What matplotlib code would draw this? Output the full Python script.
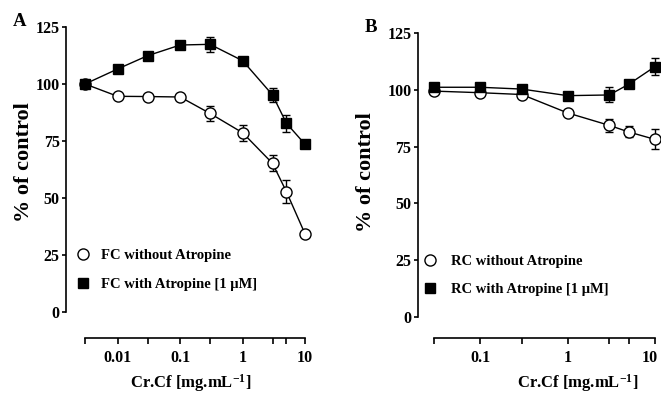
import matplotlib
matplotlib.use("Agg")
import matplotlib.pyplot as plt
from matplotlib.lines import Line2D
from matplotlib.transforms import ScaledTranslation

plt.rcParams['font.family'] = ['Liberation Serif', 'DejaVu Serif']
plt.rcParams['font.weight'] = 'bold'
plt.rcParams['mathtext.fontset'] = 'custom'
plt.rcParams['mathtext.rm'] = 'Liberation Serif:bold'
plt.rcParams['mathtext.it'] = 'Liberation Serif:bold'
plt.rcParams['mathtext.bf'] = 'Liberation Serif:bold'

# ---------------- data ----------------
conc_a = [0.003, 0.01, 0.03, 0.1, 0.3, 1, 3, 5, 10]
fc_without = [100, 94.6, 94.5, 94.3, 87.1, 78.6, 65.2, 52.8, 34.1]
fc_without_err = [0.8, 0.8, 0.8, 0.8, 3.4, 3.4, 3.5, 4.9, 1.0]
fc_with = [100, 106.6, 112.4, 117.1, 117.4, 110.2, 95.2, 82.8, 73.5]
fc_with_err = [0.8, 0.8, 0.8, 0.8, 3.2, 1.0, 3.1, 3.7, 1.0]

conc_b = [0.03, 0.1, 0.3, 1, 3, 5, 10]
rc_without = [99.5, 98.8, 98.0, 89.9, 84.4, 81.5, 78.2]
rc_without_err = [0.8, 0.8, 0.8, 1.0, 2.9, 2.4, 4.4]
rc_with = [101.2, 101.2, 100.4, 97.5, 97.8, 102.5, 110.3]
rc_with_err = [0.8, 0.8, 0.8, 1.5, 3.3, 1.5, 3.7]

yticks = [0, 25, 50, 75, 100, 125]
xticks_a = [0.003, 0.01, 0.03, 0.1, 0.3, 1, 3, 5, 10]
xlabels_a = ['', '0.01', '', '0.1', '', '1', '', '', '10']
xticks_b = [0.03, 0.1, 0.3, 1, 3, 5, 10]
xlabels_b = ['', '0.1', '', '1', '', '', '10']

legend_a = ['FC without Atropine', 'FC with Atropine [1 \u03bcM]']
legend_b = ['RC without Atropine', 'RC with Atropine [1 \u03bcM]']

W, H = 661, 401
fig = plt.figure(figsize=(W / 100, H / 100), dpi=100)

def px_axes(l, top_px, r, bottom_px):
    return [l / W, (H - bottom_px) / H, (r - l) / W, (bottom_px - top_px) / H]

def style(ax, xticks, xlabels, xlim, outward_pt, xb):
    ax.set_xscale('log')
    ax.set_xlim(*xlim)
    ax.set_ylim(0, 125)
    ax.set_yticks(yticks)
    ax.set_yticklabels([str(v) for v in yticks])
    ax.set_xticks(xticks)
    ax.set_xticklabels(xlabels)
    ax.minorticks_off()
    ax.spines['top'].set_visible(False)
    ax.spines['right'].set_visible(False)
    ax.spines['left'].set_bounds(0, 125)
    ax.spines['bottom'].set_position(('outward', outward_pt))
    ax.spines['bottom'].set_bounds(xb[0], xb[1])
    for s in ('left', 'bottom'):
        ax.spines[s].set_linewidth(1.2)
    ax.tick_params(axis='y', direction='out', length=3, width=1.2, pad=1.5, labelsize=11.5)
    ax.tick_params(axis='x', direction='out', length=4.5, width=1.2, pad=4, labelsize=11.5)
    ax.patch.set_visible(False)

def draw(ax, x, y1, e1, y2, e2):
    ax.errorbar(x, y1, yerr=e1, color='black', lw=1.0, elinewidth=1.0, capsize=3,
                capthick=1.0, marker='o', ms=8, mfc='white', mec='black', mew=1.0, zorder=3)
    ax.errorbar(x, y2, yerr=e2, color='black', lw=1.0, elinewidth=1.0, capsize=3,
                capthick=1.0, marker='s', ms=7.5, mfc='black', mec='black', zorder=3)

def handles():
    return [Line2D([], [], ls='none', marker='o', ms=8, mfc='white', mec='black'),
            Line2D([], [], ls='none', marker='s', ms=7.5, mfc='black', mec='black')]

legend_prop = {'family': 'Liberation Serif', 'weight': 'bold', 'size': 10.5}

# Panel A
axA = fig.add_axes(px_axes(66, 27, 312, 312))
style(axA, xticks_a, xlabels_a, (10 ** -2.827, 10 ** 1.109), 26 * 0.72, (0.003, 10))
draw(axA, conc_a, fc_without, fc_without_err, fc_with, fc_with_err)
axA.set_ylabel('% of control', fontsize=16, fontweight='bold')
axA.yaxis.label.set_va('center')
axA.yaxis.set_label_coords((24 - 66) / 246, (312 - 162) / 285)
axA.set_xlabel('Cr.Cf [mg.mL$^{-1}$]', fontsize=12, fontweight='bold')
axA.xaxis.label.set_va('center')
axA.xaxis.set_label_coords((191 - 66) / 246, (312 - 383) / 285)
axA.legend(handles(), legend_a, frameon=False,
           loc='upper left', bbox_to_anchor=((75.8 - 66) / 246, (312 - 249) / 285),
           borderaxespad=0, borderpad=0, handlelength=1.0, handletextpad=0.75,
           labelspacing=1.05, prop=legend_prop)
fig.text(20 / W, 1 - 21 / H, 'A', fontsize=13.5, fontweight='bold', ha='center', va='center')

# Panel B
axB = fig.add_axes(px_axes(417.7, 33.3, 661, 316.7))
style(axB, xticks_b, xlabels_b, (10 ** -1.713, 10 ** 1.069), 21.3 * 0.72, (0.03, 10))
draw(axB, conc_b, rc_without, rc_without_err, rc_with, rc_with_err)
axB.set_ylabel('% of control', fontsize=16, fontweight='bold')
axB.yaxis.label.set_va('center')
axB.yaxis.set_label_coords((366 - 417.7) / 243.3, (316.7 - 172) / 283.3)
axB.set_xlabel('Cr.Cf [mg.mL$^{-1}$]', fontsize=12, fontweight='bold')
axB.xaxis.label.set_va('center')
axB.xaxis.set_label_coords((578 - 417.7) / 243.3, (316.7 - 383) / 283.3)
axB.legend(handles(), legend_b, frameon=False,
           loc='upper left', bbox_to_anchor=((422.8 - 417.7) / 243.3, (316.7 - 255) / 283.3),
           borderaxespad=0, borderpad=0, handlelength=1.0, handletextpad=0.95,
           labelspacing=1.0, prop=legend_prop)
fig.text(371 / W, 1 - 27 / H, 'B', fontsize=13.5, fontweight='bold', ha='center', va='center')

# nudge the last tick label of panel B so it stays inside the picture
last = axB.xaxis.get_major_ticks()[-1].label1
last.set_transform(last.get_transform() + ScaledTranslation(-5 / 100, 0, fig.dpi_scale_trans))

fig.savefig('out.png', dpi=100)
